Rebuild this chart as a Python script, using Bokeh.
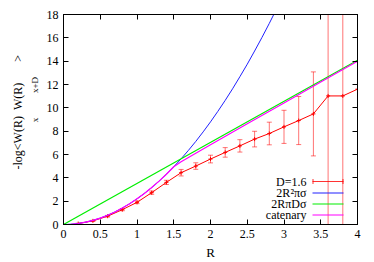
from bokeh.plotting import figure
from bokeh.models import Range1d, FixedTicker, LinearAxis, Label, BoxAnnotation, ColumnDataSource, Title
from bokeh.embed import file_html
from bokeh.resources import INLINE

# ---- data ----
R_data = [0.2, 0.4, 0.6, 0.8, 1.0, 1.2, 1.4, 1.6, 1.8, 2.0,
          2.2, 2.4, 2.6, 2.8, 3.0, 3.2, 3.4, 3.6, 3.8, 4.0]
V_data = [0.08, 0.31, 0.71, 1.27, 1.90, 2.73, 3.61, 4.44, 5.01, 5.61,
          6.18, 6.74, 7.32, 7.80, 8.37, 8.91, 9.48, 11.02, 11.02, 11.60]
E_data = [0.03, 0.05, 0.07, 0.09, 0.11, 0.14, 0.18, 0.28, 0.28, 0.33,
          0.41, 0.53, 0.67, 0.97, 1.42, 2.06, 3.60, 25.0, 25.0, 25.0]

R_blue = [0.0, 0.1, 0.2, 0.3, 0.4, 0.5, 0.6, 0.7, 0.8, 0.9, 1.0, 1.1, 1.2, 1.3, 1.4,
          1.5, 1.6, 1.7, 1.8, 1.9, 2.0, 2.1, 2.2, 2.3, 2.4, 2.5, 2.6, 2.7, 2.8, 2.9]
V_blue = [0.0, 0.022, 0.088, 0.198, 0.352, 0.550, 0.792, 1.078, 1.407, 1.781, 2.199,
          2.661, 3.167, 3.716, 4.310, 4.948, 5.630, 6.355, 7.125, 7.938, 8.796,
          9.698, 10.64, 11.63, 12.67, 13.74, 14.87, 16.03, 17.24, 18.49]

R_green = [0.0, 4.0]
V_green = [0.0, 14.07]

R_cat = [0.0, 0.1, 0.2, 0.3, 0.4, 0.5, 0.6, 0.7, 0.8, 0.9, 1.0, 1.1, 1.2, 1.3, 1.4,
         1.5, 1.6, 1.7, 1.8, 2.0, 2.5, 3.0, 3.5, 4.0]
V_cat = [0.0, 0.022, 0.088, 0.198, 0.352, 0.550, 0.792, 1.078, 1.407, 1.781, 2.199,
         2.661, 3.167, 3.716, 4.310, 4.95, 5.37, 5.74, 6.11, 6.84, 8.64, 10.42, 12.21, 13.99]

x_ticks = [0, 0.5, 1, 1.5, 2, 2.5, 3, 3.5, 4]
x_tick_labels = ["0", "0.5", "1", "1.5", "2", "2.5", "3", "3.5", "4"]
y_ticks = [0, 2, 4, 6, 8, 10, 12, 14, 16, 18]

legend_labels = ["D=1.6", "2R\u00b2\u03c0\u03c3", "2R\u03c0D\u03c3", "catenary"]
RED, BLUE, GREEN, MAG = "#ff0000", "#2020ff", "#00ee00", "#ff00ff"
legend_colors = [RED, BLUE, GREEN, MAG]

FONT = "'Liberation Serif', 'Times New Roman', serif"
NB = "\u00a0"

p = figure(width=374, height=262, output_backend="svg", toolbar_location=None,
           x_range=Range1d(0, 4), y_range=Range1d(0, 18),
           min_border_left=63, min_border_right=17, min_border_top=14, min_border_bottom=37)
p.xgrid.visible = False
p.ygrid.visible = False
p.outline_line_color = "black"
p.outline_line_width = 1
p.background_fill_color = "white"
p.border_fill_color = "white"

def style_axis(ax, ticks, show_labels):
    ax.ticker = FixedTicker(ticks=ticks)
    ax.minor_tick_line_color = None
    ax.major_tick_in = 5
    ax.major_tick_out = 0
    ax.axis_line_color = "black"
    ax.major_tick_line_color = "black"
    ax.major_label_text_font = FONT
    ax.major_label_text_color = "black"
    if show_labels:
        ax.major_label_text_font_size = "12px"
        ax.major_label_standoff = 5
    else:
        ax.major_label_text_font_size = "0px"
        ax.major_label_standoff = 0

style_axis(p.xaxis[0], x_ticks, True)
p.xaxis[0].major_label_overrides = {t: s for t, s in zip(x_ticks, x_tick_labels)}
p.xaxis[0].axis_label = "R"
p.xaxis[0].axis_label_text_font = FONT
p.xaxis[0].axis_label_text_font_size = "13px"
p.xaxis[0].axis_label_text_font_style = "normal"
p.xaxis[0].axis_label_text_color = "black"
p.xaxis[0].axis_label_standoff = 4
style_axis(p.yaxis[0], y_ticks, True)

top_ax = LinearAxis()
style_axis(top_ax, x_ticks, False)
p.add_layout(top_ax, "above")
right_ax = LinearAxis()
style_axis(right_ax, y_ticks, False)
p.add_layout(right_ax, "right")

# ---- data marks ----
lo = [v - e for v, e in zip(V_data, E_data)]
hi = [v + e for v, e in zip(V_data, E_data)]
src = ColumnDataSource(dict(x=R_data, y=V_data, lo=lo, hi=hi))
p.segment(x0="x", y0="lo", x1="x", y1="hi", source=src, line_color=RED, line_alpha=0.55, line_width=1)
p.dash(x="x", y="lo", source=src, size=5, line_color=RED, line_alpha=0.55, line_width=1)
p.dash(x="x", y="hi", source=src, size=5, line_color=RED, line_alpha=0.55, line_width=1)
p.line(x="x", y="y", source=src, line_color=RED, line_width=1)
p.cross(x="x", y="y", source=src, size=4, line_color=RED, line_width=1)

p.line(R_blue, V_blue, line_color=BLUE, line_width=1)
p.line(R_green, V_green, line_color=GREEN, line_width=1.2)
p.line(R_cat, V_cat, line_color=MAG, line_width=1.2)

# ---- legend (gnuplot style: text right-aligned, sample to the right) ----
row_y = [43, 31.5, 20.5, 9.5]
for lab, col, yy in zip(legend_labels, legend_colors, row_y):
    p.add_layout(Label(x=243, y=yy, x_units="screen", y_units="screen", text=lab,
                       text_font=FONT, text_font_size="12px", text_align="right",
                       text_baseline="middle", text_color="black"))
    p.add_layout(BoxAnnotation(left=249, right=280, bottom=yy - 0.6, top=yy + 0.6,
                               left_units="screen", right_units="screen",
                               bottom_units="screen", top_units="screen",
                               fill_color=col, fill_alpha=0.8 if col == RED else 1.0,
                               line_color=None))
for xx in (249, 279):
    p.add_layout(BoxAnnotation(left=xx, right=xx + 1, bottom=row_y[0] - 2.5, top=row_y[0] + 2.5,
                               left_units="screen", right_units="screen",
                               bottom_units="screen", top_units="screen",
                               fill_color=RED, fill_alpha=0.8, line_color=None))

# ---- y axis label: main text column and subscript column ----
sub_text = NB * 21 + "x" + NB * 11 + "x+D"
main_text = "-log<W(R)" + NB * 2 + "W(R)" + NB * 7 + ">"
sub_title = Title(text=sub_text, text_font=FONT, text_font_size="9px", text_font_style="normal",
                  text_color="black", align="left", offset=55, standoff=8)
main_title = Title(text=main_text, text_font=FONT, text_font_size="12px", text_font_style="normal",
                   text_color="black", align="left", offset=55, standoff=-2)
p.add_layout(sub_title, "left")
p.add_layout(main_title, "left")

open("out.html", "w").write(file_html(p, INLINE))
